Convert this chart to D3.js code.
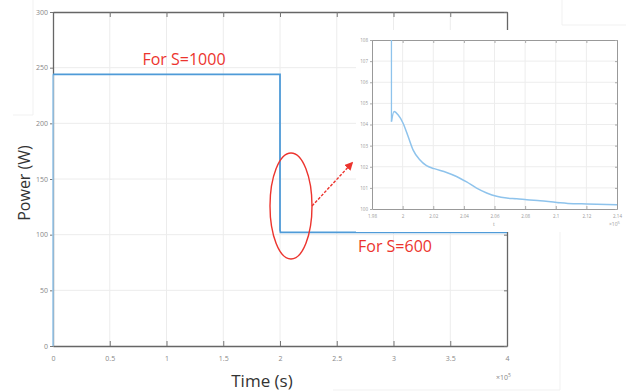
<!DOCTYPE html>
<html>
<head>
<meta charset="utf-8">
<script src="https://cdn.jsdelivr.net/npm/d3@7"></script>
<style>
  html, body { margin: 0; padding: 0; background: #fff; }
  svg { display: block; }
  text { font-family: "Open Sans", "DejaVu Sans", sans-serif; }
</style>
</head>
<body>
<svg id="chart" width="626" height="392"></svg>
<script>
// main plot: time in units of 1e5 s, power in W
const mainTime  = [0, 0, 2.0, 2.0, 2.004, 4.0];
const mainPower = [0, 244, 244, 104, 102, 102];
const mainXTicks = [0, 0.5, 1, 1.5, 2, 2.5, 3, 3.5, 4];
const mainYTicks = [0, 50, 100, 150, 200, 250, 300];

// zoomed inset around the step
const zoomTime  = [1.9927, 1.9927, 1.9944, 1.9970, 2.0003, 2.0036, 2.0068, 2.0112, 2.0156, 2.0206,
                   2.0287, 2.0352, 2.0418, 2.0483, 2.0549, 2.0614, 2.0680, 2.0745, 2.0811, 2.0898,
                   2.1007, 2.1116, 2.1203, 2.1400];
const zoomPower = [109, 104.14, 104.61, 104.46, 104.06, 103.43, 102.80, 102.33, 102.05, 101.91,
                   101.73, 101.54, 101.28, 100.99, 100.76, 100.60, 100.52, 100.49, 100.44, 100.39,
                   100.31, 100.25, 100.24, 100.20];
const zoomXTicks = [1.98, 2, 2.02, 2.04, 2.06, 2.08, 2.1, 2.12, 2.14];
const zoomYTicks = [100, 101, 102, 103, 104, 105, 106, 107, 108];

const svg = d3.select('#chart');
const blue = '#4f9bd8';
const red = '#ec342e';
const plain = d => String(+d.toFixed(2));

// faint screenshot panel edges
const faint = svg.append('g').attr('stroke', '#f1f1f1').attr('fill', 'none');
faint.append('path').attr('d', 'M33,0V115H13');
faint.append('path').attr('d', 'M562,0V25H626');
faint.append('path').attr('d', 'M560,232V390H333');

// ---------- main axes ----------
const x = d3.scaleLinear().domain([0, 4]).range([53, 507]);
const y = d3.scaleLinear().domain([0, 300]).range([346, 12]);

const grid = svg.append('g').attr('stroke', '#ececec').attr('stroke-width', 1);
grid.selectAll('.gx').data(mainXTicks.slice(1, -1)).join('line')
  .attr('x1', d => x(d)).attr('x2', d => x(d)).attr('y1', y(0)).attr('y2', y(300));
grid.selectAll('.gy').data(mainYTicks.slice(1, -1)).join('line')
  .attr('x1', x(0)).attr('x2', x(4)).attr('y1', d => y(d)).attr('y2', d => y(d));

const axisStyle = g => {
  g.select('.domain').attr('stroke', '#666').attr('stroke-width', 1.3);
  g.selectAll('.tick line').attr('stroke', '#777');
  g.selectAll('.tick text').attr('fill', '#888').attr('font-size', 7)
    .attr('font-family', '"Liberation Sans Narrow", "DejaVu Sans Condensed", sans-serif');
};

svg.append('g').attr('transform', `translate(0,${y(0)})`)
  .call(d3.axisBottom(x).tickValues(mainXTicks).tickSize(-5).tickPadding(10).tickSizeOuter(0).tickFormat(plain))
  .call(axisStyle);
svg.append('g').attr('transform', `translate(0,${y(300)})`)
  .call(d3.axisTop(x).tickValues(mainXTicks).tickSize(-5).tickSizeOuter(0).tickFormat(''))
  .call(axisStyle);
svg.append('g').attr('transform', `translate(${x(0)},0)`)
  .call(d3.axisLeft(y).tickValues(mainYTicks).tickSize(3).tickPadding(2).tickSizeOuter(0).tickFormat(plain))
  .call(axisStyle);
svg.append('g').attr('transform', `translate(${x(4)},0)`)
  .call(d3.axisRight(y).tickValues(mainYTicks).tickSize(-3).tickSizeOuter(0).tickFormat(''))
  .call(axisStyle);

svg.append('text').attr('x', 496).attr('y', 380).attr('font-size', 7).attr('fill', '#888')
  .attr('font-family', '"Liberation Sans Narrow", sans-serif')
  .text('×10').append('tspan').attr('dy', -3).attr('font-size', 5).text('5');

const line = d3.line().x(d => x(d[0])).y(d => y(d[1]));
const mainData = mainTime.map((t, i) => [t, mainPower[i]]);
svg.append('path').datum(mainData.slice(0, 2)).attr('d', line)
  .attr('fill', 'none').attr('stroke', '#9fcdf0').attr('stroke-width', 1.6);
svg.append('path').datum(mainData.slice(1)).attr('d', line)
  .attr('fill', 'none').attr('stroke', blue).attr('stroke-width', 1.8);

svg.append('text').attr('x', 262).attr('y', 387).attr('text-anchor', 'middle')
  .attr('font-size', 17).attr('fill', '#333').text('Time (s)');
svg.append('text').attr('transform', 'translate(30,183) rotate(-90)').attr('text-anchor', 'middle')
  .attr('font-size', 16).attr('fill', '#333').text('Power (W)');

svg.append('text').attr('x', 184).attr('y', 65).attr('text-anchor', 'middle')
  .attr('font-size', 16).attr('fill', red).text('For S=1000');

// ---------- inset ----------
svg.append('rect').attr('x', 356).attr('y', 30).attr('width', 270).attr('height', 202).attr('fill', '#fff');

const zx = d3.scaleLinear().domain([1.98, 2.14]).range([372, 617]);
const zy = d3.scaleLinear().domain([100, 108]).range([209, 40]);

const zgrid = svg.append('g').attr('stroke', '#ededed');
zgrid.selectAll('.zgx').data(zoomXTicks.slice(1, -1)).join('line')
  .attr('x1', d => zx(d)).attr('x2', d => zx(d)).attr('y1', zy(100)).attr('y2', zy(108));
zgrid.selectAll('.zgy').data(zoomYTicks.slice(1, -1)).join('line')
  .attr('x1', zx(1.98)).attr('x2', zx(2.14)).attr('y1', d => zy(d)).attr('y2', d => zy(d));

const zAxisStyle = g => {
  g.select('.domain').attr('stroke', '#999');
  g.selectAll('.tick line').attr('stroke', '#aaa');
  g.selectAll('.tick text').attr('fill', '#999').attr('font-size', 4.5)
    .attr('font-family', '"Liberation Sans Narrow", sans-serif');
};
svg.append('g').attr('transform', `translate(0,${zy(100)})`)
  .call(d3.axisBottom(zx).tickValues(zoomXTicks).tickSize(-3).tickPadding(6).tickSizeOuter(0).tickFormat(plain))
  .call(zAxisStyle);
svg.append('g').attr('transform', `translate(0,${zy(108)})`)
  .call(d3.axisTop(zx).tickValues(zoomXTicks).tickSize(-3).tickSizeOuter(0).tickFormat(''))
  .call(zAxisStyle);
svg.append('g').attr('transform', `translate(${zx(1.98)},0)`)
  .call(d3.axisLeft(zy).tickValues(zoomYTicks).tickSize(2).tickPadding(2).tickSizeOuter(0).tickFormat(plain))
  .call(zAxisStyle);
svg.append('g').attr('transform', `translate(${zx(2.14)},0)`)
  .call(d3.axisRight(zy).tickValues(zoomYTicks).tickSize(-2).tickSizeOuter(0).tickFormat(''))
  .call(zAxisStyle);

svg.append('text').attr('x', 493).attr('y', 226).attr('font-size', 5).attr('fill', '#999').text('t');
svg.append('text').attr('x', 609).attr('y', 226).attr('font-size', 5).attr('fill', '#999')
  .text('×10').append('tspan').attr('dy', -2).attr('font-size', 4).text('5');

svg.append('defs').append('clipPath').attr('id', 'zclip')
  .append('rect').attr('x', 372).attr('y', 40).attr('width', 245).attr('height', 169);
const zline = d3.line().x(d => zx(d[0])).y(d => zy(d[1])).curve(d3.curveMonotoneX);
const zData = zoomTime.map((t, i) => [t, zoomPower[i]]);
svg.append('path').datum(zData.slice(0, 2)).attr('d', d3.line().x(d => zx(d[0])).y(d => zy(d[1])))
  .attr('clip-path', 'url(#zclip)').attr('fill', 'none').attr('stroke', '#8ec3ec').attr('stroke-width', 1.3);
svg.append('path').datum(zData.slice(1)).attr('d', zline)
  .attr('clip-path', 'url(#zclip)').attr('fill', 'none').attr('stroke', '#8ec3ec').attr('stroke-width', 1.5);

// ---------- annotations ----------
svg.append('text').attr('x', 395).attr('y', 252).attr('text-anchor', 'middle')
  .attr('font-size', 16).attr('fill', red).text('For S=600');

svg.append('ellipse').attr('cx', 291).attr('cy', 206).attr('rx', 21).attr('ry', 53)
  .attr('fill', 'none').attr('stroke', red).attr('stroke-width', 1.4);

svg.append('defs').append('marker').attr('id', 'arrow').attr('viewBox', '0 0 10 10')
  .attr('refX', 8).attr('refY', 5).attr('markerWidth', 6).attr('markerHeight', 6)
  .attr('orient', 'auto').append('path').attr('d', 'M0,0L10,5L0,10z').attr('fill', red);
svg.append('line').attr('x1', 312).attr('y1', 206).attr('x2', 352).attr('y2', 163)
  .attr('stroke', red).attr('stroke-width', 1.4).attr('stroke-dasharray', '3,1.5')
  .attr('marker-end', 'url(#arrow)');
</script>
</body>
</html>
